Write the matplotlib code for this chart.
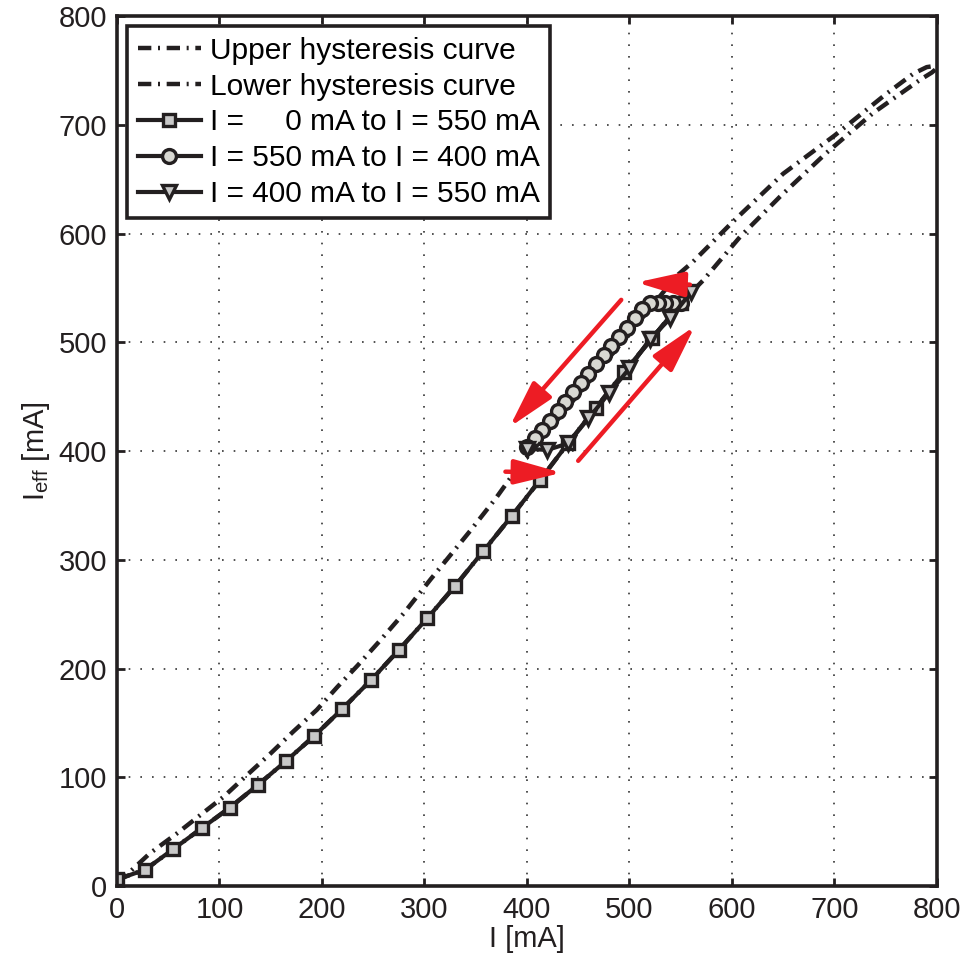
import matplotlib.pyplot as plt
import numpy as np

plt.rcParams['font.family'] = ['Liberation Sans', 'DejaVu Sans']
plt.rcParams['mathtext.fontset'] = 'custom'
plt.rcParams['mathtext.rm'] = 'Liberation Sans'
plt.rcParams['mathtext.it'] = 'Liberation Sans'

# Hysteresis envelope curves (I in mA, Ieff in mA)
upper_i = [0, 32, 58, 81, 104, 128, 150, 172, 195, 215, 235, 257, 280, 306,
           345, 370, 386, 450, 500, 546, 562, 600, 650, 700, 750, 777, 790,
           797, 800]
upper_ieff = [2, 30, 48, 65, 82, 103, 122, 142, 162, 183, 203, 226, 251, 282,
              327, 357, 378, 452, 508, 561, 574, 610, 655, 690, 728, 747, 753,
              754, 752]

lower_i = [0, 27.5, 55, 82.5, 110, 137.5, 165, 192.5, 220, 247.5, 275, 302.5,
           330, 357.5, 385, 412.5, 440, 467.5, 495, 522.5, 550, 572, 608, 647,
           692, 738, 783, 795, 800]
lower_ieff = [6, 15, 34, 53, 72, 93, 115, 138, 163, 189, 217, 246, 276, 308,
              340, 373, 407, 440, 473, 504, 536, 557, 597, 634, 674, 711, 741,
              748, 752]

# Measurement sweeps
up1_i = [0, 27.5, 55, 82.5, 110, 137.5, 165, 192.5, 220, 247.5, 275, 302.5,
         330, 357.5, 385, 412.5, 440, 467.5, 495, 522.5, 550]
up1_ieff = [6, 15, 34, 53, 72, 93, 115, 138, 163, 189, 217, 246, 276, 308,
            340, 373, 407, 440, 473, 504, 536]

down_i = [550, 542.5, 535, 527.5, 520, 512.5, 505, 497.5, 490, 482.5, 475,
          467.5, 460, 452.5, 445, 437.5, 430, 422.5, 415, 407.5, 400]
down_ieff = [536, 536, 536, 536, 536, 531, 522, 513, 505, 497, 488, 480, 471,
             463, 454, 445, 437, 428, 419, 412, 404]

up2_i = [400, 420, 440, 460, 480, 500, 520, 540, 560]
up2_ieff = [402, 401, 407, 430, 453, 476, 503, 522, 546]

# Red direction arrows: (tail_i, tail_ieff, tip_i, tip_ieff)
arrows = [(559, 553, 507, 555),
          (492, 539, 383, 422),
          (450, 391, 564, 515),
          (379, 381, 434, 380)]

dark = '#231f20'
red = '#ed1c24'
dashdot = (0, (3.0, 1.5, 0.45, 1.5))

fig = plt.figure(figsize=(9.65, 9.59), dpi=100)
ax = fig.add_axes([0.1212, 0.0761, 0.8497, 0.9072])

ax.plot(upper_i, upper_ieff, color=dark, lw=3.2, linestyle=dashdot,
        label='Upper hysteresis curve')
ax.plot(lower_i, lower_ieff, color=dark, lw=3.2, linestyle=dashdot,
        label='Lower hysteresis curve')
ax.plot(up1_i, up1_ieff, color=dark, lw=3, marker='s', ms=9,
        mfc='#c8c8c8', mec=dark, mew=2.4,
        label='I =     0 mA to I = 550 mA')
ax.plot(down_i, down_ieff, color=dark, lw=3, marker='o', ms=10,
        mfc='#d8d8d2', mec=dark, mew=2.4,
        label='I = 550 mA to I = 400 mA')
ax.plot(up2_i, up2_ieff, color=dark, lw=3, marker='v', ms=10.5,
        mfc='#c8c8c8', mec=dark, mew=2.4,
        label='I = 400 mA to I = 550 mA')

for x0, y0, x1, y1 in arrows:
    ax.annotate('', xy=(x1, y1), xytext=(x0, y0),
                arrowprops=dict(arrowstyle='-|>,head_length=1.45,head_width=0.38',
                                color=red, lw=3.2, mutation_scale=20,
                                shrinkA=0, shrinkB=0))

ax.set_xlim(0, 800)
ax.set_ylim(0, 800)
ax.set_xticks(np.arange(0, 801, 100))
ax.set_yticks(np.arange(0, 801, 100))
ax.grid(True, color='#333333', linestyle=(0, (1, 6)), lw=1.2)
ax.tick_params(direction='in', length=6, width=2, labelsize=21,
               top=True, right=True, pad=7, colors=dark)
for s in ax.spines.values():
    s.set_linewidth(2.6)
    s.set_color(dark)

ax.set_xlabel('I [mA]', fontsize=21, labelpad=1, color=dark)
ax.set_ylabel(r'I$_\mathrm{eff}$ [mA]', fontsize=21, labelpad=5, color=dark)

leg = ax.legend(loc='upper left', fontsize=21.5, handlelength=2.1,
                handletextpad=0.3, labelspacing=0.26, borderaxespad=0.35,
                borderpad=0.35, fancybox=False, framealpha=1)
leg.get_frame().set_edgecolor(dark)
leg.get_frame().set_linewidth(2.6)

plt.savefig('out.png', dpi=100)
